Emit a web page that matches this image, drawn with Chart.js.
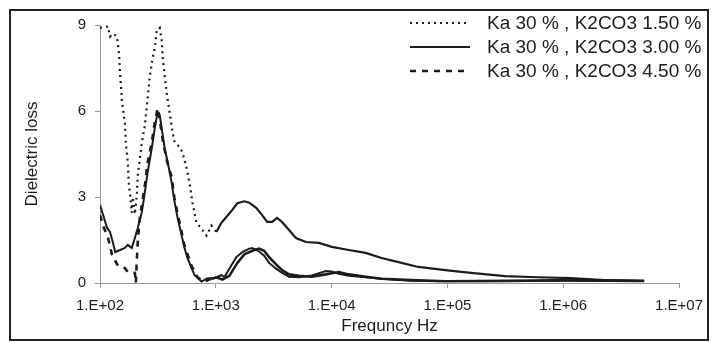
<!DOCTYPE html>
<html>
<head>
<meta charset="utf-8">
<script src="https://cdn.jsdelivr.net/npm/chart.js@4.4.0/dist/chart.umd.min.js"></script>
<style>
  html, body { margin: 0; padding: 0; background: #fff; }
  #wrap { width: 712px; height: 342px; }
</style>
</head>
<body>
<div id="wrap"><canvas id="lossChart" width="712" height="342"></canvas></div>
<script>
// frequency (Hz) and dielectric loss
const freq15 = [100, 117, 122, 129, 140, 146, 149, 155, 164, 167, 174, 177, 185, 188, 192, 200, 208, 212, 230, 244, 258, 269, 285, 297, 309, 328, 341, 348, 362, 376, 399, 424, 441, 487, 516, 559, 593, 629, 681, 752, 830, 917, 1012, 1117, 1233, 1389, 1535, 1762, 1944, 2233, 2514, 2775, 3063, 3383, 3734, 4290, 4925, 5999, 7766, 10040, 14060, 19670, 27000, 37780, 56120, 95720, 160000, 313900, 602600, 1159000, 2270000, 5000000];
const loss15 = [8.9, 8.95, 8.6, 8.7, 8.6, 8.0, 7.3, 6.3, 5.6, 4.9, 4.2, 3.5, 2.8, 2.45, 3.0, 2.4, 3.07, 3.77, 4.9, 5.5, 6.45, 7.2, 7.85, 8.2, 8.8, 8.9, 8.45, 7.85, 7.25, 6.65, 5.95, 5.25, 4.9, 4.75, 4.55, 4.0, 3.5, 2.8, 2.1, 1.9, 1.65, 2.0, 1.78, 2.1, 2.3, 2.55, 2.78, 2.85, 2.8, 2.62, 2.37, 2.13, 2.13, 2.27, 2.13, 1.85, 1.57, 1.43, 1.4, 1.26, 1.15, 1.05, 0.87, 0.73, 0.56, 0.45, 0.35, 0.24, 0.2, 0.17, 0.1, 0.07];

const freq30 = [100, 106, 115, 122, 129, 135, 149, 164, 174, 188, 200, 212, 230, 244, 258, 280, 297, 315, 328, 341, 362, 384, 415, 441, 468, 506, 537, 570, 617, 655, 752, 847, 973, 1117, 1186, 1309, 1504, 1694, 1944, 2062, 2370, 2616, 2887, 3316, 3734, 4290, 5224, 6760, 8918, 10040, 11530, 14060, 19670, 27000, 48870, 95720, 313900, 1159000, 5000000];
const loss30 = [2.72, 2.4, 1.92, 1.78, 1.43, 1.08, 1.15, 1.22, 1.33, 1.22, 1.57, 1.92, 2.48, 3.17, 3.87, 4.7, 5.4, 5.96, 5.86, 5.4, 4.7, 4.22, 3.52, 2.82, 2.27, 1.67, 1.22, 0.87, 0.52, 0.28, 0.05, 0.17, 0.17, 0.28, 0.2, 0.5, 0.9, 1.08, 1.2, 1.22, 1.1, 0.95, 0.7, 0.5, 0.35, 0.22, 0.2, 0.26, 0.42, 0.4, 0.32, 0.25, 0.2, 0.15, 0.08, 0.07, 0.08, 0.08, 0.06];

const freq45 = [100, 106, 117, 127, 143, 164, 174, 192, 200, 204, 208, 212, 221, 244, 258, 280, 297, 315, 328, 348, 376, 415, 441, 487, 537, 617, 695, 798, 917, 1012, 1140, 1309, 1535, 1762, 2146, 2370, 2616, 2887, 3316, 3734, 4290, 5224, 6760, 8918, 10040, 11530, 14060, 19670, 27000, 48870, 95720, 313900, 1159000, 5000000];
const loss45 = [2.37, 2.0, 1.6, 0.98, 0.6, 0.52, 0.38, 0.36, 0.35, 0.0, 0.8, 1.45, 2.3, 3.4, 4.2, 4.9, 5.6, 6.1, 5.7, 5.0, 4.3, 3.7, 2.9, 2.1, 1.3, 0.6, 0.2, 0.05, 0.15, 0.2, 0.12, 0.25, 0.7, 1.0, 1.15, 1.2, 1.12, 0.9, 0.65, 0.45, 0.3, 0.25, 0.22, 0.3, 0.34, 0.38, 0.3, 0.22, 0.15, 0.1, 0.06, 0.07, 0.1, 0.08];

const seriesNames = ['Ka 30 % , K2CO3 1.50 %', 'Ka 30 % , K2CO3 3.00 %', 'Ka 30 % , K2CO3 4.50 %'];
const yTicks = [0, 3, 6, 9];
const xDecades = [2, 3, 4, 5, 6, 7];

const ink = '#1c1c1c';
const fontName = "'Liberation Sans', Arial, sans-serif";

function pairs(xs, ys) {
    return xs.map((x, i) => ({ x: x, y: ys[i] }));
}

// dense points in the scan look solid above ~1 kHz
function dashUntil(limit, dash) {
    return ctx => (ctx.p0.parsed.x < limit ? dash : []);
}

// white page with the dark frame round it
const framePlugin = {
    id: 'frame',
    beforeDraw(chart) {
        const c = chart.ctx;
        c.save();
        c.fillStyle = '#fff';
        c.fillRect(0, 0, chart.width, chart.height);
        c.strokeStyle = '#222';
        c.lineWidth = 2;
        c.strokeRect(10, 10, 698, 330);
        c.restore();
    }
};

// legend drawn in the top right of the plot
const legendPlugin = {
    id: 'cornerLegend',
    afterDraw(chart) {
        const c = chart.ctx;
        const rows = [23, 47, 71];
        c.save();
        chart.data.datasets.forEach((ds, i) => {
            const y = rows[i];
            c.strokeStyle = ink;
            c.lineWidth = ds.borderWidth;
            c.setLineDash(ds.borderDash || []);
            c.beginPath();
            c.moveTo(410, y);
            c.lineTo(470, y);
            c.stroke();
            c.setLineDash([]);
            c.fillStyle = ink;
            c.font = '19px ' + fontName;
            c.textBaseline = 'middle';
            c.textAlign = 'left';
            c.fillText(ds.label, 487, y + 1);
        });
        c.restore();
    }
};

const ctx = document.getElementById('lossChart').getContext('2d');
const lossChart = new Chart(ctx, {
    type: 'line',
    data: {
        datasets: [{
            label: seriesNames[0],
            data: pairs(freq15, loss15),
            borderColor: ink,
            borderWidth: 2.2,
            borderDash: [2, 4],
            segment: { borderDash: dashUntil(1000, [2, 4]) },
            pointRadius: 0,
            tension: 0
        }, {
            label: seriesNames[1],
            data: pairs(freq30, loss30),
            borderColor: ink,
            borderWidth: 2,
            pointRadius: 0,
            tension: 0
        }, {
            label: seriesNames[2],
            data: pairs(freq45, loss45),
            borderColor: ink,
            borderWidth: 2.6,
            borderDash: [6, 6],
            segment: { borderDash: dashUntil(800, [6, 6]) },
            pointRadius: 0,
            tension: 0
        }]
    },
    options: {
        responsive: false,
        animation: false,
        layout: { padding: { left: 0, top: 25, right: 30, bottom: 0 } },
        plugins: {
            legend: { display: false },
            tooltip: { enabled: false }
        },
        scales: {
            x: {
                type: 'logarithmic',
                min: 100,
                max: 1e7,
                afterBuildTicks: scale => {
                    scale.ticks = xDecades.map(e => ({ value: Math.pow(10, e) }));
                },
                afterFit: scale => { scale.height = 59; },
                ticks: {
                    color: ink,
                    font: { family: fontName, size: 15 },
                    padding: 9,
                    maxRotation: 0,
                    autoSkip: false,
                    callback: v => '1.E+' + String(Math.round(Math.log10(v))).padStart(2, '0')
                },
                grid: { drawOnChartArea: false, drawTicks: true, tickLength: 5, color: '#999' },
                border: { color: '#999', width: 1 },
                title: {
                    display: true,
                    text: 'Frequncy Hz',
                    color: ink,
                    font: { family: fontName, size: 17 },
                    padding: { top: 0, bottom: 5 }
                }
            },
            y: {
                min: 0,
                max: 9,
                afterBuildTicks: scale => {
                    scale.ticks = yTicks.map(v => ({ value: v }));
                },
                afterFit: scale => { scale.width = 100; },
                ticks: {
                    color: ink,
                    font: { family: fontName, size: 15 },
                    padding: 9
                },
                grid: { drawOnChartArea: false, drawTicks: true, tickLength: 5, color: '#999' },
                border: { color: '#999', width: 1 },
                title: {
                    display: true,
                    text: 'Dielectric loss',
                    color: ink,
                    font: { family: fontName, size: 17 },
                    padding: { top: 22, bottom: 0 }
                }
            }
        }
    },
    plugins: [framePlugin, legendPlugin]
});
</script>
</body>
</html>
